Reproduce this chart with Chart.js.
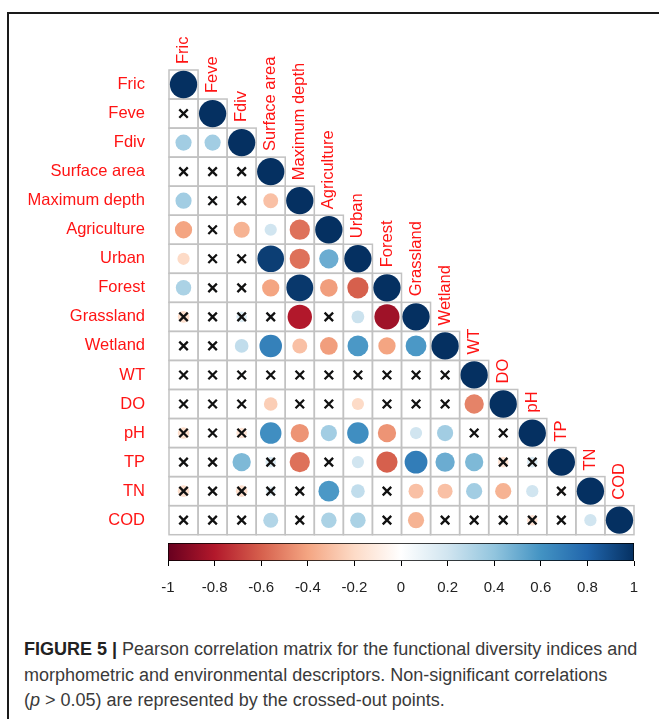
<!DOCTYPE html>
<html>
<head>
<meta charset="utf-8">
<script src="https://cdn.jsdelivr.net/npm/chart.js@4.4.1/dist/chart.umd.min.js"></script>
<style>
  html, body { margin: 0; padding: 0; background: #fff; }
  body { width: 659px; height: 719px; position: relative; overflow: hidden; font-family: "Liberation Sans", Arial, sans-serif; }
  .frame { position: absolute; left: 7px; top: 12px; width: 700px; height: 760px; border-left: 2px solid #1a1a1a; border-top: 2px solid #1a1a1a; }
  #matrix { position: absolute; left: 0; top: 0; }
  #legendBar { position: absolute; left: 0; top: 530px; }
  .caption { position: absolute; left: 24px; top: 637px; font-size: 18px; line-height: 25.5px; color: #3a3a3a; white-space: nowrap; }
  .caption b { color: #222; }
</style>
</head>
<body>
<div class="frame"></div>
<canvas id="matrix" width="659" height="543"></canvas>
<canvas id="legendBar" width="659" height="80"></canvas>
<div class="caption">
  <b>FIGURE 5 |</b> Pearson correlation matrix for the functional diversity indices and<br>
  morphometric and environmental descriptors. Non-significant correlations<br>
  (<i>p</i> &gt; 0.05) are represented by the crossed-out points.
</div>
<script>
// variables, in plot order (rows top->bottom, columns left->right)
const variables = ['Fric', 'Feve', 'Fdiv', 'Surface area', 'Maximum depth', 'Agriculture', 'Urban',
  'Forest', 'Grassland', 'Wetland', 'WT', 'DO', 'pH', 'TP', 'TN', 'COD'];

// lower triangle of r, row i holds columns 0..i
const corrValues = [
  [1],
  [0.02, 1],
  [0.35, 0.35, 1],
  [0.03, 0.02, 0.04, 1],
  [0.35, 0.05, 0.03, -0.3, 1],
  [-0.4, 0.02, -0.35, 0.2, -0.55, 1],
  [-0.2, 0.03, 0.02, 0.95, -0.55, 0.5, 1],
  [0.32, 0.04, 0.03, -0.4, 0.97, -0.42, -0.6, 1],
  [-0.18, 0.02, 0.15, 0.06, -0.8, 0.03, 0.22, -0.85, 1],
  [0.02, 0.03, 0.25, 0.68, -0.3, -0.42, 0.58, -0.4, 0.58, 1],
  [0.02, 0.02, 0.03, 0.02, 0.03, 0.02, 0.03, 0.02, 0.03, 0.02, 1],
  [0.03, 0.02, 0.03, -0.25, 0.02, 0.03, -0.2, 0.02, 0.03, 0.02, -0.5, 1],
  [-0.18, 0.02, -0.15, 0.62, -0.45, 0.35, 0.62, -0.45, 0.2, 0.35, 0.03, 0.02, 1],
  [0.03, 0.02, 0.45, 0.15, -0.55, 0.03, 0.2, -0.6, 0.7, 0.5, 0.45, -0.15, 0.15, 1],
  [-0.18, 0.02, -0.18, 0.12, 0.03, 0.58, 0.25, 0.03, -0.3, -0.3, 0.35, -0.35, 0.2, -0.05, 1],
  [0.02, 0.03, 0.02, 0.3, 0.03, 0.32, 0.32, 0.02, -0.35, 0.03, 0.02, 0.03, -0.15, 0.02, 0.2, 1]
];

// 1 = significant, 0 = crossed out (p > 0.05)
const signif = [
  [1],
  [0, 1],
  [1, 1, 1],
  [0, 0, 0, 1],
  [1, 0, 0, 1, 1],
  [1, 0, 1, 1, 1, 1],
  [1, 0, 0, 1, 1, 1, 1],
  [1, 0, 0, 1, 1, 1, 1, 1],
  [0, 0, 0, 0, 1, 0, 1, 1, 1],
  [0, 0, 1, 1, 1, 1, 1, 1, 1, 1],
  [0, 0, 0, 0, 0, 0, 0, 0, 0, 0, 1],
  [0, 0, 0, 1, 0, 0, 1, 0, 0, 0, 1, 1],
  [0, 0, 0, 1, 1, 1, 1, 1, 1, 1, 0, 0, 1],
  [0, 0, 1, 0, 1, 0, 1, 1, 1, 1, 1, 0, 0, 1],
  [0, 0, 0, 0, 0, 1, 1, 0, 1, 1, 1, 1, 1, 0, 1],
  [0, 0, 0, 1, 0, 1, 1, 0, 1, 0, 0, 0, 0, 0, 1, 1]
];

// colour bar ticks
const barTicks = [-1, -0.8, -0.6, -0.4, -0.2, 0, 0.2, 0.4, 0.6, 0.8, 1];

// RdBu palette, -1 .. 1
const palette = ['#67001F', '#B2182B', '#D6604D', '#F4A582', '#FDDBC7', '#FFFFFF',
  '#D1E5F0', '#92C5DE', '#4393C3', '#2166AC', '#053061'];

const labelRed = '#ff1414';
const labelFont = { family: '"Liberation Sans", Arial, sans-serif', size: 16.5 };

function hexToRgb(h) {
  const v = parseInt(h.slice(1), 16);
  return [(v >> 16) & 255, (v >> 8) & 255, v & 255];
}

function colorFor(r) {
  const t = (Math.max(-1, Math.min(1, r)) + 1) / 2 * (palette.length - 1);
  const k = Math.min(palette.length - 2, Math.floor(t));
  const f = t - k;
  const a = hexToRgb(palette[k]), b = hexToRgb(palette[k + 1]);
  const c = a.map((v, i) => Math.round(v + (b[i] - v) * f));
  return `rgb(${c[0]}, ${c[1]}, ${c[2]})`;
}

const circlePoints = [];
const crossPoints = [];
corrValues.forEach((row, i) => {
  row.forEach((r, j) => {
    circlePoints.push({ x: j, y: i, r });
    if (!signif[i][j]) crossPoints.push({ x: j, y: i });
  });
});

function cellSize(chart) {
  const x = chart.scales.x;
  return Math.abs(x.getPixelForValue(1) - x.getPixelForValue(0));
}

// grey square around every cell of the lower triangle
const cellGrid = {
  id: 'cellGrid',
  beforeDatasetsDraw(chart) {
    const { ctx, scales: { x, y } } = chart;
    const w = cellSize(chart);
    ctx.save();
    ctx.strokeStyle = '#c2c2c2';
    ctx.lineWidth = 1.5;
    corrValues.forEach((row, i) => {
      row.forEach((_, j) => {
        ctx.strokeRect(x.getPixelForValue(j) - w / 2, y.getPixelForValue(i) - w / 2, w, w);
      });
    });
    ctx.restore();
  }
};

// column names written up along the diagonal
const diagLabels = {
  id: 'diagLabels',
  afterDatasetsDraw(chart) {
    const { ctx, scales: { x, y } } = chart;
    const w = cellSize(chart);
    ctx.save();
    ctx.fillStyle = labelRed;
    ctx.font = `${labelFont.size}px ${labelFont.family}`;
    ctx.textAlign = 'left';
    ctx.textBaseline = 'middle';
    variables.forEach((name, i) => {
      ctx.save();
      ctx.translate(x.getPixelForValue(i), y.getPixelForValue(i) - w / 2 - 6);
      ctx.rotate(-Math.PI / 2);
      ctx.fillText(name, 0, 0);
      ctx.restore();
    });
    ctx.restore();
  }
};

new Chart(document.getElementById('matrix'), {
  type: 'scatter',
  data: {
    datasets: [
      {
        data: circlePoints,
        order: 1,
        pointStyle: 'circle',
        borderWidth: 0,
        pointRadius: (c) => {
          const p = c.raw;
          return p ? 0.47 * cellSize(c.chart) * Math.sqrt(Math.abs(p.r)) : 0;
        },
        backgroundColor: (c) => c.raw ? colorFor(c.raw.r) : '#fff'
      },
      {
        data: crossPoints,
        order: 0,
        pointStyle: 'crossRot',
        pointRadius: 6,
        borderWidth: 2.3,
        borderColor: '#111',
        backgroundColor: '#111'
      }
    ]
  },
  options: {
    responsive: false,
    animation: false,
    events: [],
    layout: { padding: { top: 70, right: 25, bottom: 4.7, left: 0 } },
    plugins: { legend: { display: false }, tooltip: { enabled: false } },
    scales: {
      x: { type: 'linear', min: -0.5, max: 15.5, display: false },
      y: {
        type: 'linear', min: -0.5, max: 15.5, reverse: true,
        grid: { display: false }, border: { display: false },
        afterBuildTicks: (s) => { s.ticks = variables.map((_, i) => ({ value: i })); },
        afterFit: (s) => { s.width = 169; s.paddingTop = 0; s.paddingBottom = 0; },
        ticks: {
          autoSkip: false,
          padding: 16,
          color: labelRed,
          font: labelFont,
          callback: (v) => variables[v]
        }
      }
    }
  },
  plugins: [cellGrid, diagLabels]
});

// colour key
new Chart(document.getElementById('legendBar'), {
  type: 'bar',
  data: {
    labels: [''],
    datasets: [{
      data: [[-1, 1]],
      borderColor: '#000',
      borderWidth: 1,
      borderSkipped: false,
      barPercentage: 1,
      categoryPercentage: 1,
      backgroundColor: (c) => {
        const area = c.chart.chartArea;
        if (!area) return '#fff';
        const g = c.chart.ctx.createLinearGradient(area.left, 0, area.right, 0);
        palette.forEach((col, k) => g.addColorStop(k / (palette.length - 1), col));
        return g;
      }
    }]
  },
  options: {
    indexAxis: 'y',
    responsive: false,
    animation: false,
    events: [],
    layout: { padding: { top: 13, right: 25, bottom: 0, left: 168 } },
    plugins: { legend: { display: false }, tooltip: { enabled: false } },
    scales: {
      y: { display: false },
      x: {
        type: 'linear', min: -1, max: 1,
        afterBuildTicks: (s) => { s.ticks = barTicks.map((v) => ({ value: v })); },
        afterFit: (s) => { s.height = 49; },
        grid: { drawOnChartArea: false, drawTicks: true, tickLength: 5, color: '#000' },
        border: { display: false },
        ticks: {
          padding: 13,
          color: '#222',
          font: { family: '"Liberation Sans", Arial, sans-serif', size: 15 },
          callback: (v) => String(v)
        }
      }
    }
  }
});
</script>
</body>
</html>
